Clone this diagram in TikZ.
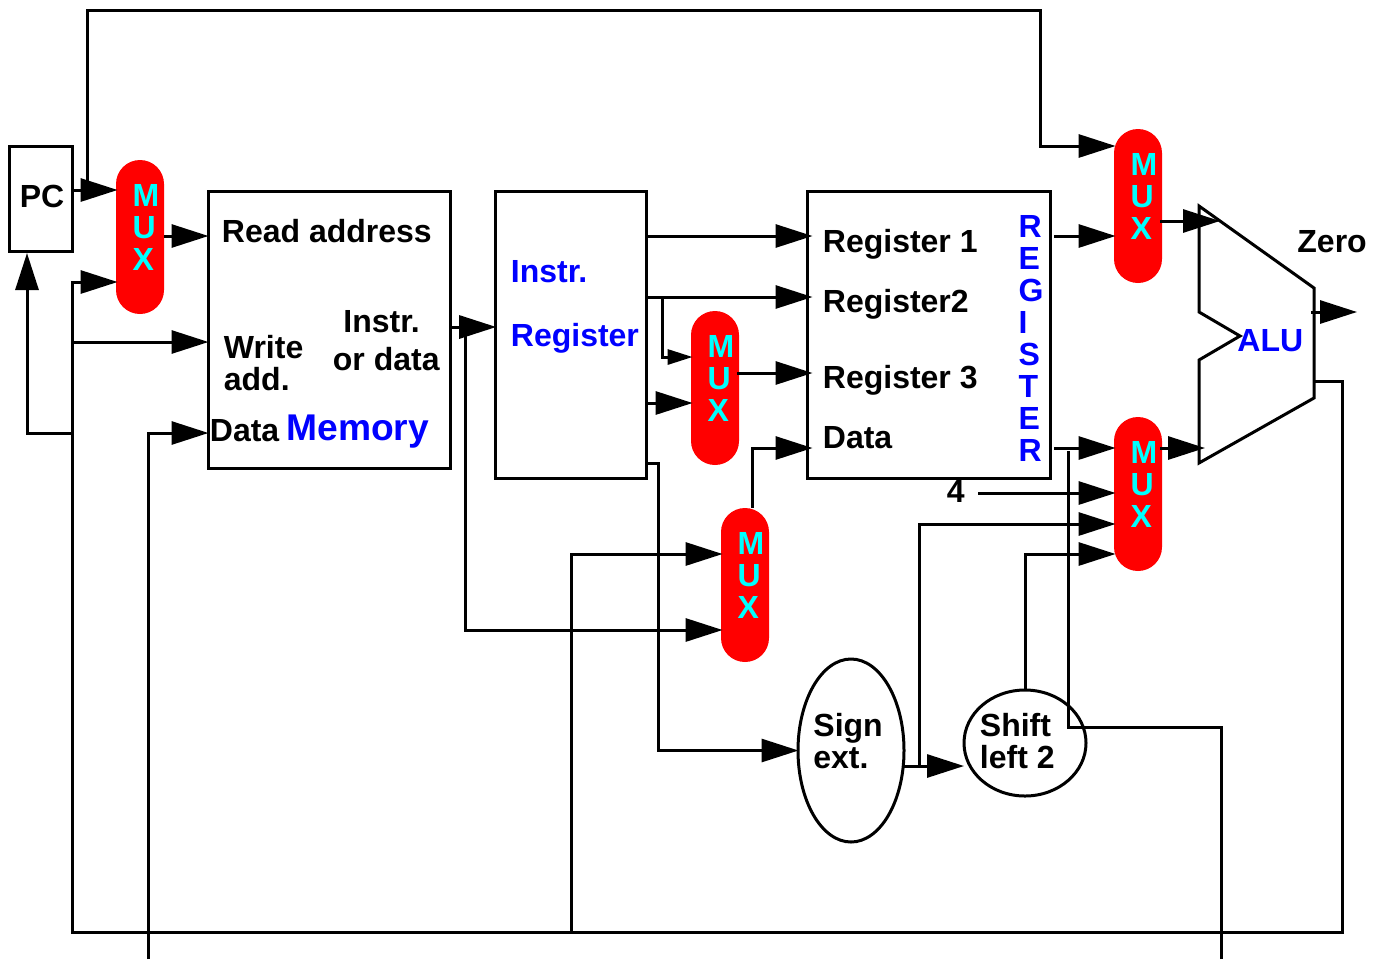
\documentclass[tikz,border=0pt]{standalone}
\usepackage{fontspec}
\setmainfont{Liberation Sans}
\usetikzlibrary{arrows.meta,shapes.geometric}

\definecolor{muxcyan}{RGB}{0,255,255}
\definecolor{pureblue}{RGB}{0,0,255}
\definecolor{purered}{RGB}{255,0,0}

\tikzset{
    x=0.5pt, y=-0.5pt,
    wire/.style={line width=1.5pt},
    arrow/.style={wire, -{Triangle[length=18.5pt,width=11.5pt]}, shorten >=-1pt},
    regarrow/.style={arrow, shorten >=-3.5pt},
    smallarrow/.style={wire, -{Triangle[length=12.5pt,width=7.5pt]}, shorten >=-1pt},
    unit/.style={draw, line width=1.5pt, minimum width=#1, inner sep=0pt},
    mux/.style={fill=purered, rounded corners=12pt, minimum width=24pt, minimum height=77pt, inner sep=0pt},
    bold/.style={font=\bfseries\fontsize{16}{16}\selectfont, inner sep=0pt, align=left},
    word/.style={bold, anchor=base west},
    blueword/.style={word, text=pureblue},
    muxtext/.style={bold, text=muxcyan},
    oval/.style={draw, ellipse, line width=1.5pt, inner sep=0pt}
}

\begin{document}
\begin{tikzpicture}
    \useasboundingbox (0,0) rectangle (1379,959);

    % Blocks
    \node[unit=31.5pt, minimum height=52.5pt] (pc) at (40.7,198.5) {};
    \node[unit=121pt, minimum height=138.5pt] (mem) at (329,329.5) {};
    \node[unit=75.5pt, minimum height=143.5pt] (ireg) at (571.2,334.5) {};
    \node[unit=121.5pt, minimum height=143.5pt] (regs) at (928.5,334.5) {};
    \node[oval, minimum width=53pt, minimum height=91.5pt] (signext) at (851,750.5) {};
    \node[oval, minimum width=61pt, minimum height=53pt] (shiftl) at (1025,743) {};

    % Multiplexers
    \foreach \name/\x/\y in {mux1/140/237, mux2/1138/206, mux3/715/388, mux4/745/585, mux5/1138/494} {
        \node[mux] (\name) at (\x,\y) {};
        \node[muxtext] (\name text) at (\x+6,\y-9.5) {M\\U\\X};
    }

    % Ports on the blocks
    \foreach \name/\side/\y in {mux1a/mux1.west/190, mux1b/mux1.west/282, mux1o/mux1.east/236,
        mema/mem.west/236, memb/mem.west/342, memc/mem.west/433, memo/mem.east/327,
        irin/ireg.west/327, iroa/ireg.east/236, irob/ireg.east/297, iroc/ireg.east/403, irod/ireg.east/463,
        rega/regs.west/236, regb/regs.west/297, regc/regs.west/373, regd/regs.west/448,
        mux2a/mux2.west/146, mux2b/mux2.west/236,
        mux3a/mux3.west/357, mux3b/mux3.west/403,
        mux4a/mux4.west/554, mux4b/mux4.west/630,
        mux5a/mux5.west/448, mux5b/mux5.west/493, mux5c/mux5.west/524, mux5d/mux5.west/554} {
        \coordinate (\name) at (\side |- 0,\y);
    }

    % Junctions and free ends
    \foreach \name/\x/\y in {pctap/87/190, topright/1040/10, pcin/27/255, busse/1342/932, busfeed/72/282,
        busmem/72/342, buspc/72/433, busmux/571/932, datain/148/959, memtap/465/327, irtap/662/297,
        irbend/658/463, mux2o/1160/221, mux3o/737/373, mux4o/752/508, mux5o/1160/448,
        regoa/1054/236, regob/1054/448, fourout/978/493, signo/904/766, signtap/919/766, shiftin/962/766,
        carryout/1221/959, carrybend/1068/727, carrytop/1068/451,
        alua/1218/221, alub/1203/448, aluo/1311/312, aluend/1355/312, alures/1314/381} {
        \coordinate (\name) at (\x,\y);
    }

    % ALU outline
    \draw[wire, line join=miter] (1199,206) -- (1314,288) -- (1314,398) -- (1199,463) -- (1199,360)
        -- (1240,336) -- (1199,312) -- cycle;

    % Connections
    \draw[arrow] (pc.east |- pctap) -- (mux1a);
    \draw[arrow] (pctap) |- (topright) |- (mux2a);
    \draw[arrow] (mux1o) -- (mema);
    \draw[arrow] (alures) -| (busse) -| (busfeed) -- (mux1b);
    \draw[arrow] (busmem) -- (memb);
    \draw[arrow] (buspc) -| (pcin);
    \draw[arrow] (datain) |- (memc);
    \draw[arrow] (busmux) |- (mux4a);
    \draw[arrow] (memo) -- (irin);
    \draw[arrow] (memtap) |- (mux4b);
    \draw[regarrow] (iroa) -- (rega);
    \draw[regarrow] (irob) -- (regb);
    \draw[smallarrow] (irtap) |- (mux3a);
    \draw[arrow] (iroc) -- (mux3b);
    \draw[arrow] (irod) -- (irbend) |- (signext.west);
    \draw[regarrow] (mux3o) -- (regc);
    \draw[regarrow] (mux4o) |- (regd);
    \draw[arrow] (regoa) -- (mux2b);
    \draw[arrow] (regob) -- (mux5a);
    \draw[arrow] (fourout) -- (mux5b);
    \draw[arrow] (signo) -- (shiftin);
    \draw[arrow] (signtap) |- (mux5c);
    \draw[arrow] (shiftl.north) |- (mux5d);
    \draw[wire] (carryout) |- (carrybend) -- (carrytop);
    \draw[arrow] (mux2o) -- (alua);
    \draw[arrow] (mux5o) -- (alub);
    \draw[arrow] (aluo) -- (aluend);

    % Labels
    \node[word] (pclabel) at (19.5,207) {PC};
    \node[word] (readlabel) at (221.5,242) {Read address};
    \node[word] (instrlabel) at (343,332) {Instr.};
    \node[word] (ordatalabel) at (332.5,370) {or data};
    \node[word] (writelabel) at (223.5,358) {Write};
    \node[word] (addlabel) at (223.5,390) {add.};
    \node[word] (datalabel) at (209.5,441) {Data};
    \node[blueword, font=\bfseries\fontsize{18.6}{18.6}\selectfont] (memlabel) at (286,440) {Memory};
    \node[blueword] (irlabela) at (510.5,282) {Instr.};
    \node[blueword] (irlabelb) at (510.5,346) {Register};
    \node[word] (reglabela) at (822.5,252) {Register 1};
    \node[word] (reglabelb) at (822.5,312) {Register2};
    \node[word] (reglabelc) at (822.5,388) {Register 3};
    \node[word] (reglabeld) at (822.5,448) {Data};
    \node[bold, text=pureblue] (regname) at (1031,338) {R\\E\\G\\I\\S\\T\\E\\R};
    \node[word] (four) at (946.5,502) {4};
    \node[word] (zero) at (1297,252) {Zero};
    \node[blueword] (alulabel) at (1237,351) {ALU};
    \node[bold, anchor=west] (signlabel) at (813,741) {Sign\\ext.};
    \node[bold, anchor=west] (shiftlabel) at (979.5,741) {Shift\\left 2};
\end{tikzpicture}
\end{document}
